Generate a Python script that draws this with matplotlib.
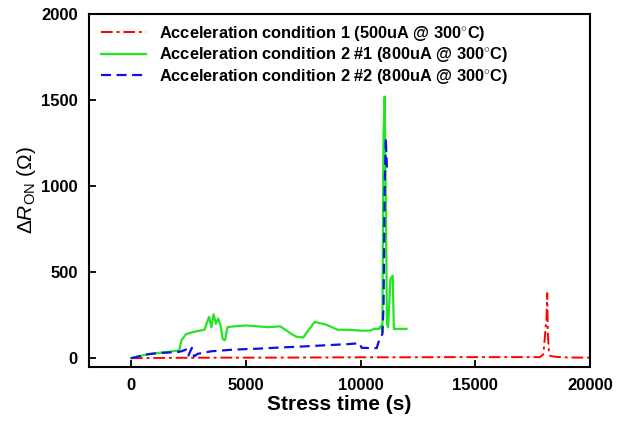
import numpy as np
import matplotlib
matplotlib.use('Agg')
from matplotlib import pyplot as plt

plt.rcParams['font.family'] = ['Liberation Sans', 'DejaVu Sans']
plt.rcParams['mathtext.fontset'] = 'custom'
plt.rcParams['mathtext.rm'] = 'Liberation Sans'
plt.rcParams['mathtext.it'] = 'Liberation Sans:italic'

# condition 1 (500uA @ 300C)
t1 = [0, 1000, 2000, 4000, 6000, 8000, 10000, 12000, 14000, 16000, 17000, 17800,
      17950, 18000, 18050, 18100, 18130, 18160, 18200, 18250, 18300, 18500, 19000, 20000]
r1 = [0, 1, 2, 3, 3, 4, 5, 5, 6, 6, 6, 6,
      20, 75, 160, 230, 378, 140, 45, 15, 12, 8, 4, 3]

# condition 2 #1 (800uA @ 300C)
t2 = [0, 300, 800, 1500, 2100, 2200, 2400, 2800, 3200, 3400, 3500, 3600, 3700, 3800,
      3900, 4000, 4100, 4200, 4500, 5000, 5500, 6000, 6500, 7000, 7200, 7500, 7800,
      8000, 8500, 9000, 9500, 10000, 10400, 10600, 10800, 10900, 10950, 11000, 11050,
      11100, 11150, 11200, 11300, 11400, 11450, 11600, 12000]
r2 = [0, 10, 25, 35, 45, 105, 140, 155, 165, 240, 180, 255, 200, 230,
      190, 110, 105, 180, 185, 190, 185, 180, 185, 140, 125, 120, 175,
      210, 195, 165, 165, 160, 160, 170, 170, 190, 150, 1300, 1520,
      900, 200, 180, 460, 480, 170, 170, 170]

# condition 2 #2 (800uA @ 300C)
t3 = [0, 200, 600, 1200, 2000, 2200, 2400, 2500, 2650, 2750, 2900, 3500, 4500,
      5500, 6500, 7500, 8500, 9500, 9950, 10050, 10700, 10800, 10950, 11000,
      11050, 11100, 11150]
r3 = [0, 5, 20, 30, 35, 40, 50, 15, 60, 10, 25, 40, 50,
      55, 62, 68, 75, 82, 87, 60, 58, 100, 140, 300,
      1000, 1280, 1100]

fig = plt.figure(figsize=(6.21, 4.36), dpi=100)
ax = fig.add_axes([0.1433, 0.158, 0.807, 0.81])

ax.plot(t1, r1, color='red', ls=(0, (6, 2, 1.5, 2)), lw=1.4,
        label='Acceleration condition 1 (500uA @ 300$^{\\circ}$C)')
ax.plot(t2, r2, color='#22e622', ls='-', lw=1.6,
        label='Acceleration condition 2 #1 (800uA @ 300$^{\\circ}$C)')
ax.plot(t3, r3, color='#1010e0', ls=(0, (4.5, 2.5)), lw=1.6,
        label='Acceleration condition 2 #2 (800uA @ 300$^{\\circ}$C)')

ax.set_xlim(-1830, 20000)
ax.set_ylim(-52, 2000)
ax.set_xticks([0, 5000, 10000, 15000, 20000])
ax.set_yticks([0, 500, 1000, 1500, 2000])
ax.tick_params(direction='in', length=5, width=1.3, labelsize=12, pad=8)
for lab in ax.get_xticklabels() + ax.get_yticklabels():
    lab.set_fontweight('bold')
for s in ax.spines.values():
    s.set_linewidth(1.5)

ax.set_xlabel('Stress time (s)', fontsize=15, fontweight='bold', labelpad=1)
ax.set_ylabel(r'$\Delta\it{R}$$_{\rm ON}$ (Ω)', fontsize=15, labelpad=2)

leg = ax.legend(loc='upper left', frameon=False, prop={'weight': 'bold', 'size': 11.8},
                handlelength=2.7, borderaxespad=0.2, labelspacing=0.15,
                handletextpad=0.8, bbox_to_anchor=(0.005, 1.0))

fig.savefig('out.png', dpi=100)
